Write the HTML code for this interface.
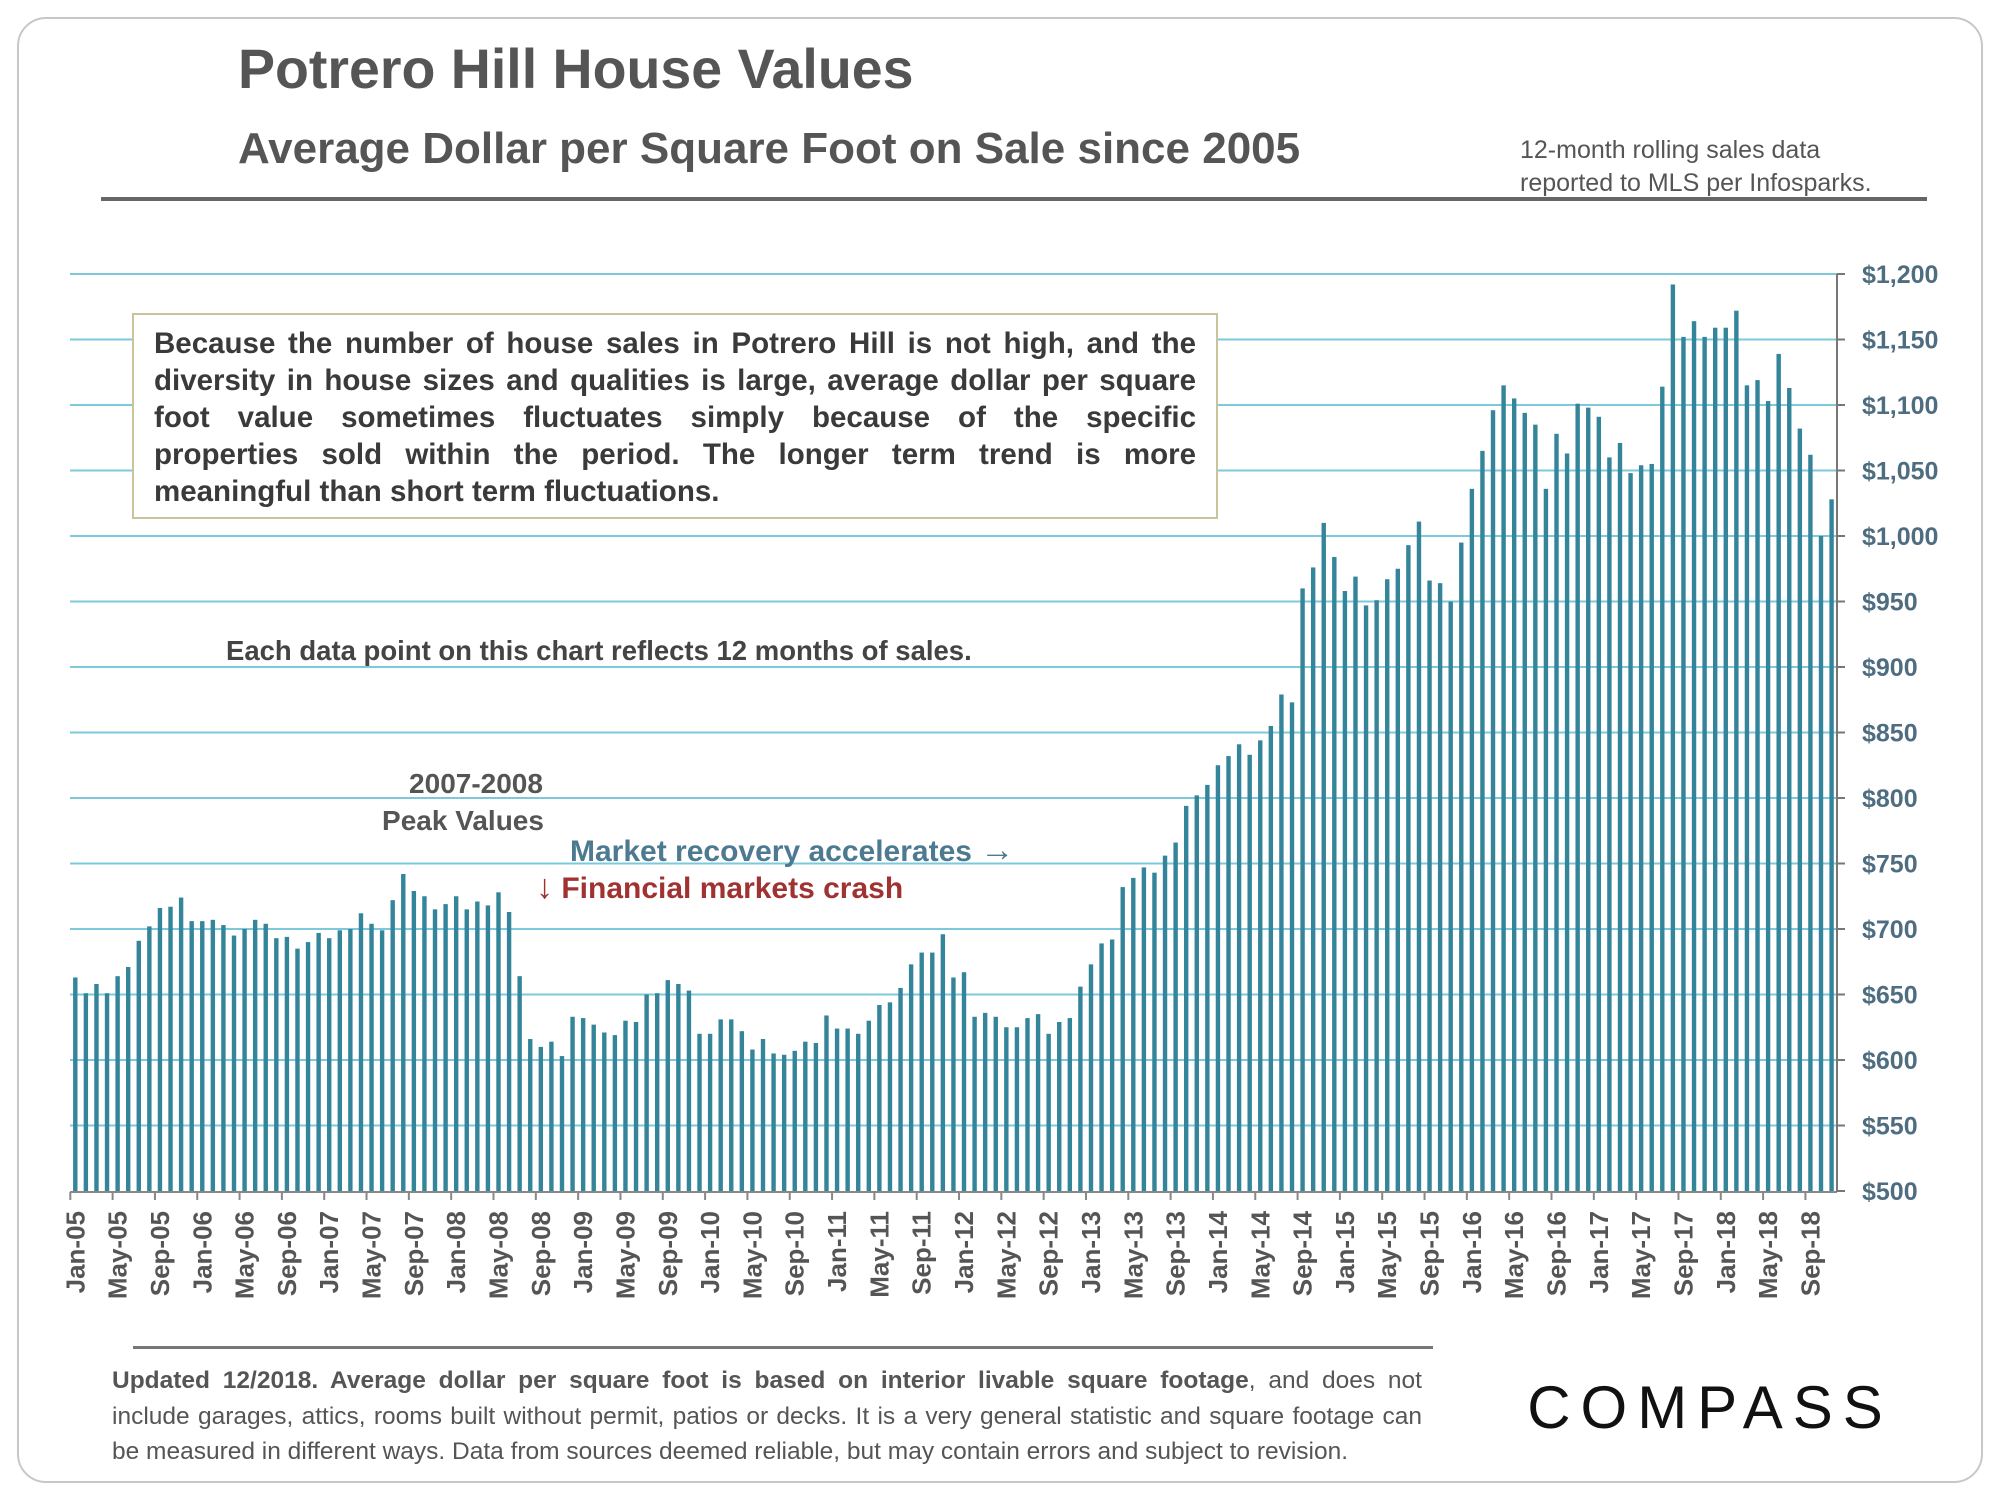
<!DOCTYPE html>
<html><head><meta charset="utf-8"><style>
body{margin:0;background:#fff;}
#wrap{position:relative;width:2000px;height:1500px;}
svg{display:block;font-family:"Liberation Sans",sans-serif;}
.jl{position:absolute;font-family:"Liberation Sans",sans-serif;text-align:justify;text-align-last:justify;white-space:nowrap;}
.jl.last{text-align-last:left;}
</style></head><body>
<div id="wrap">
<svg id="chart" width="2000" height="1500" viewBox="0 0 2000 1500">
<rect x="18" y="18" width="1964" height="1464" rx="28" fill="#fff" stroke="#c8c8c8" stroke-width="2"/>
<text x="238" y="88" font-size="55.5" font-weight="bold" fill="#555">Potrero Hill House Values</text>
<text x="238" y="163" font-size="44" font-weight="bold" fill="#555">Average Dollar per Square Foot on Sale since 2005</text>
<text x="1520" y="158" font-size="25" fill="#555">12-month rolling sales data</text>
<text x="1520" y="191" font-size="25" fill="#555">reported to MLS per Infosparks.</text>
<rect x="101" y="197" width="1826" height="4" fill="#666"/>
<g id="grid"></g>
<g id="bars"></g>
<g id="axes"></g>
<rect x="133" y="314" width="1084" height="204" fill="#fff" stroke="#c9c49a" stroke-width="2"/>
<text x="226" y="660" font-size="27.5" font-weight="bold" fill="#444">Each data point on this chart reflects 12 months of sales.</text>
<text x="476" y="793" font-size="28" font-weight="bold" fill="#555" text-anchor="middle">2007-2008</text>
<text x="463" y="830" font-size="28" font-weight="bold" fill="#555" text-anchor="middle">Peak Values</text>
<text x="570" y="861" font-size="30" font-weight="bold" fill="#4d7a90">Market recovery accelerates <tspan font-size="34">→</tspan></text>
<text x="536" y="898" font-size="30" font-weight="bold" fill="#a03232"><tspan font-size="34">↓</tspan> Financial markets crash</text>
<rect x="133" y="1346" width="1300" height="3" fill="#777"/>
<text x="1710" y="1428" font-size="60" fill="#111" text-anchor="middle" letter-spacing="10">COMPASS</text>
</svg>
<div style="position:absolute;left:154px;top:325px;width:1042px;font-size:29.5px;font-weight:bold;color:#3a3a3a;line-height:37px;">
<div class="jl" style="position:static">Because the number of house sales in Potrero Hill is not high, and the</div>
<div class="jl" style="position:static">diversity in house sizes and qualities is large, average dollar per square</div>
<div class="jl" style="position:static">foot value sometimes fluctuates simply because of the specific</div>
<div class="jl" style="position:static">properties sold within the period. The longer term trend is more</div>
<div class="jl last" style="position:static">meaningful than short term fluctuations.</div>
</div>
<div style="position:absolute;left:112px;top:1363px;width:1310px;font-size:24.5px;color:#555;line-height:35.5px;">
<div class="jl" style="position:static"><b>Updated 12/2018. Average dollar per square foot is based on interior livable square footage</b>, and does not</div>
<div class="jl" style="position:static">include garages, attics, rooms built without permit, patios or decks. It is a very general statistic and square footage can</div>
<div class="jl last" style="position:static">be measured in different ways. Data from sources deemed reliable, but may contain errors and subject to revision.</div>
</div>
</div>
<script>
const values=[663,651,658,651,664,671,691,702,716,717,724,706,706,707,703,695,700,707,704,693,694,685,690,697,693,699,700,712,704,699,722,742,729,725,715,719,725,715,721,718,728,713,664,616,610,614,603,633,632,627,621,619,630,629,650,651,661,658,653,620,620,631,631,622,608,616,605,604,607,614,613,634,624,624,620,630,642,644,655,673,682,682,696,663,667,633,636,633,625,625,632,635,620,629,632,656,673,689,692,732,739,747,743,756,766,794,802,810,825,832,841,833,844,855,879,873,960,976,1010,984,958,969,947,951,967,975,993,1011,966,964,950,995,1036,1065,1096,1115,1105,1094,1085,1036,1078,1063,1101,1098,1091,1060,1071,1048,1054,1055,1114,1192,1152,1164,1152,1159,1159,1172,1115,1119,1103,1139,1113,1082,1062,1000,1028];
const months=["Jan","Feb","Mar","Apr","May","Jun","Jul","Aug","Sep","Oct","Nov","Dec"];
const yTicks=[500,550,600,650,700,750,800,850,900,950,1000,1050,1100,1150,1200];
const startYear=2005;
const NS="http://www.w3.org/2000/svg";
const x0=75.3,step=10.58,axisX=1837,gridL=70;
function xScale(i){return x0+i*step;}
function yScale(v){return 1191-(v-500)*(917/700);}
function mk(tag,attrs,parent){const e=document.createElementNS(NS,tag);for(const k in attrs)e.setAttribute(k,attrs[k]);parent.appendChild(e);return e;}
const grid=document.getElementById('grid'),bars=document.getElementById('bars'),axes=document.getElementById('axes');
yTicks.forEach(t=>{
 const y=yScale(t);
 if(t>500){const l=mk('line',{x1:gridL,x2:axisX,y1:y,y2:y,stroke:'#7ec8dc','stroke-width':2},grid);
 
 }
 const tk=mk('line',{x1:axisX,x2:axisX+8,y1:y,y2:y,stroke:'#777','stroke-width':2},axes);
 
 
 const tx=mk('text',{x:1862,y:y+9,'font-size':25,'font-weight':'bold',fill:'#4f6d80'},axes);
 tx.textContent='$'+t.toLocaleString('en-US');
 
 
});
values.forEach((v,i)=>{
 const x=xScale(i),y=yScale(v);
 const r=mk('rect',{x:x-2.2,y:y,width:4.4,height:yScale(500)-y,fill:'#34849a'},bars);
 
 
 if(i%4===0){
  const tk=mk('line',{x1:x-5,x2:x-5,y1:1192,y2:1200,stroke:'#888','stroke-width':2},axes);
  
  
  const lab=months[i%12]+'-'+String((startYear+Math.floor(i/12))%100).padStart(2,'0');
  const t=mk('text',{x:0,y:0,'font-size':26,'font-weight':'bold',fill:'#555','text-anchor':'end',transform:`translate(${x+9},1211) rotate(-90)`},axes);
  t.textContent=lab;
  
  
 }
});
const ax=mk('line',{x1:gridL,x2:axisX,y1:1192,y2:1192,stroke:'#888','stroke-width':2},axes);


const ay=mk('line',{x1:axisX,x2:axisX,y1:yScale(1200),y2:1192,stroke:'#777','stroke-width':2},axes);


</script>
</body></html>
